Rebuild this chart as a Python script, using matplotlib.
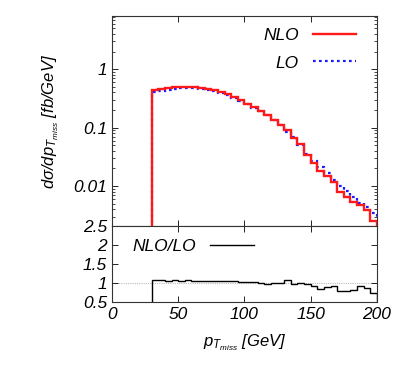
import numpy as np
import matplotlib
matplotlib.use("Agg")
import matplotlib.pyplot as plt
from matplotlib.ticker import FixedLocator, LogLocator, NullFormatter

plt.rcParams['font.family'] = ['Liberation Sans', 'DejaVu Sans']
plt.rcParams['font.style'] = 'italic'
plt.rcParams['mathtext.fontset'] = 'custom'
plt.rcParams['mathtext.rm'] = 'Liberation Sans'
plt.rcParams['mathtext.it'] = 'Liberation Sans:italic'
plt.rcParams['mathtext.sf'] = 'Liberation Sans'

# bin edges (GeV)
edges = np.arange(30, 201, 5)

nlo = [0.436, 0.454, 0.472, 0.491, 0.498, 0.505, 0.498, 0.485, 0.466, 0.442,
       0.414, 0.378, 0.340, 0.298, 0.258, 0.223, 0.193, 0.163, 0.135, 0.111,
       0.0912, 0.0656, 0.0518, 0.0340, 0.0251, 0.0178, 0.0148, 0.0119, 0.00779,
       0.00656, 0.00539, 0.00472, 0.00388, 0.00251]
lo = [0.407, 0.424, 0.445, 0.459, 0.470, 0.472, 0.474, 0.462, 0.440, 0.421,
      0.394, 0.363, 0.324, 0.287, 0.250, 0.219, 0.193, 0.166, 0.136, 0.110,
      0.0837, 0.0680, 0.0513, 0.0352, 0.0273, 0.0209, 0.0164, 0.0128, 0.00986,
      0.0082, 0.00657, 0.00519, 0.00441, 0.00344]

nlo = np.array(nlo)
lo = np.array(lo)
ratio = nlo / lo

fig = plt.figure(figsize=(4.07, 3.70), dpi=100)
ax = fig.add_axes([0.275, 0.389, 0.651, 0.568])
axr = fig.add_axes([0.275, 0.184, 0.651, 0.205])

ax.stairs(lo, edges, baseline=1e-5, color='#1a1aff', lw=1.6, ls=(0, (1.2, 1.5)), label='LO', zorder=2)
ax.stairs(nlo, edges, baseline=1e-5, color='#ff1a1a', lw=1.7, label='NLO', zorder=3)
ax.set_yscale('log')
ax.set_xlim(0, 200)
ax.set_ylim(0.00206, 8.2)
ax.yaxis.set_major_locator(FixedLocator([0.01, 0.1, 1]))
ax.set_yticklabels(['0.01', '0.1', '1'])
ax.yaxis.set_minor_locator(LogLocator(base=10, subs=np.arange(2, 10)))
ax.yaxis.set_minor_formatter(NullFormatter())
ax.set_xticks([0, 50, 100, 150, 200])
ax.tick_params(axis='x', labelbottom=False)
ax.set_ylabel(r'$\mathrm{d\sigma/dp}_{T_{miss}}$ [fb/GeV]', fontsize=12, labelpad=9)

h, l = ax.get_legend_handles_labels()
ax.legend(h[::-1], l[::-1], loc='upper right', frameon=False, markerfirst=False,
          fontsize=12.5, handlelength=2.5, labelspacing=0.7, borderaxespad=0.3,
          bbox_to_anchor=(0.968, 1.0))

axr.axhline(1.0, color='#bbbbbb', lw=0.8, ls=(0, (1, 1)), zorder=1)
axr.stairs(ratio, edges, baseline=0.0, color='black', lw=1.0, label='NLO/LO', zorder=3)
axr.set_xlim(0, 200)
axr.set_ylim(0.5, 2.5)
axr.set_yticks([0.5, 1, 1.5, 2, 2.5])
axr.set_yticklabels(['0.5', '1', '1.5', '2', '2.5'])
axr.set_xticks([0, 50, 100, 150, 200])
axr.set_xlabel(r'$p_{T_{miss}}$ [GeV]', fontsize=12, labelpad=8)
axr.legend(loc='upper left', frameon=False, markerfirst=False, fontsize=12.5,
           handlelength=2.5, borderaxespad=0.2, bbox_to_anchor=(0.04, 0.97))

for a in (ax, axr):
    a.tick_params(which='both', direction='in', top=True, right=True, labelsize=12.5)
    a.tick_params(which='major', length=4, width=0.6)
    a.tick_params(which='minor', length=2, width=0.5)
    for s in a.spines.values():
        s.set_linewidth(0.8)
        s.set_color('#333333')

fig.savefig('out.png', dpi=100)
